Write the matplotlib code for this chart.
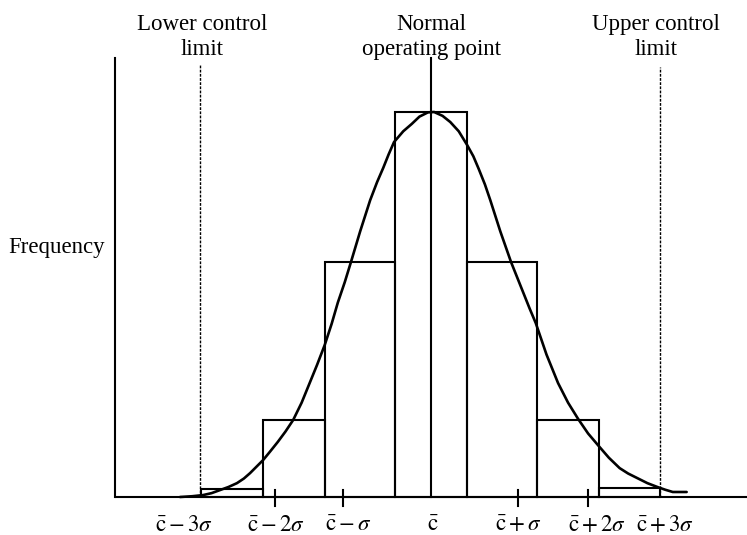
import matplotlib
matplotlib.use("Agg")
import matplotlib.pyplot as plt

# ---- data (x in sigma units about the mean c̄, y = relative frequency) ----
bar_edges = [-2.99, -2.18, -1.38, -0.47, 0.47, 1.38, 2.18, 2.98]
bar_heights = [0.021, 0.20, 0.610, 1.0, 0.610, 0.20, 0.023]

curve_x = [-3.26, -3.10, -2.96, -2.85, -2.74, -2.63, -2.52, -2.43, -2.35, -2.27,
           -2.18, -2.09, -1.99, -1.89, -1.79, -1.68, -1.58, -1.48, -1.38, -1.29,
           -1.21, -1.12, -1.04, -0.92, -0.79, -0.70, -0.62, -0.55, -0.48, -0.36,
           -0.25, -0.15, -0.04, 0.04, 0.15, 0.25, 0.36, 0.47, 0.55, 0.62,
           0.70, 0.77, 0.90, 1.04, 1.12, 1.20, 1.28, 1.36, 1.50, 1.65,
           1.78, 1.91, 2.04, 2.18, 2.31, 2.45, 2.56, 2.68, 2.81, 2.94,
           3.04, 3.14, 3.32]
curve_y = [0.0, 0.002, 0.005, 0.010, 0.018, 0.026, 0.036, 0.048, 0.062, 0.078,
           0.096, 0.118, 0.143, 0.170, 0.200, 0.245, 0.294, 0.343, 0.395, 0.450,
           0.505, 0.558, 0.610, 0.690, 0.771, 0.818, 0.855, 0.890, 0.922, 0.950,
           0.969, 0.988, 0.999, 1.0, 0.990, 0.974, 0.950, 0.914, 0.885, 0.852,
           0.812, 0.771, 0.690, 0.610, 0.570, 0.530, 0.490, 0.452, 0.370, 0.296,
           0.245, 0.203, 0.165, 0.132, 0.102, 0.075, 0.061, 0.049, 0.036, 0.026,
           0.019, 0.013, 0.013]

lower_limit = -3.0
upper_limit = 2.98
center = 0.0

tick_pos = [-2.03, -1.14, 1.13, 2.04]
tick_labels = [r"$\bar{\mathrm{c}}-3\sigma$", r"$\bar{\mathrm{c}}-2\sigma$",
               r"$\bar{\mathrm{c}}-\sigma$", r"$\bar{\mathrm{c}}$",
               r"$\bar{\mathrm{c}}+\sigma$", r"$\bar{\mathrm{c}}+2\sigma$",
               r"$\bar{\mathrm{c}}+3\sigma$"]
label_pos = [-3.21, -2.01, -1.08, 0.03, 1.13, 2.16, 3.04]

plt.rcParams['font.family'] = ['Liberation Serif', 'DejaVu Serif']
plt.rcParams['mathtext.fontset'] = 'stix'

fig = plt.figure(figsize=(7.47, 5.35), dpi=100)
ax = fig.add_axes([0, 0, 1, 1])
ax.set_xlim(-431 / 77, (747 - 431) / 77)
ax.set_ylim((497 - 535) / 385, 497 / 385)
ax.axis('off')

axis_left = -4.10
axis_top = 1.14
lw = 1.5
fs = 16.5

# axes
ax.plot([axis_left, 4.2], [0, 0], color='black', lw=lw, solid_capstyle='butt', clip_on=False)
ax.plot([axis_left, axis_left], [0, axis_top], color='black', lw=lw)
ax.plot([center, center], [0, axis_top], color='black', lw=lw)

# control limits (dotted)
ax.plot([lower_limit, lower_limit], [0, 1.125], color='black', lw=1.0, ls=(0, (2, 1)))
ax.plot([upper_limit, upper_limit], [0, 1.117], color='black', lw=1.0, ls=(0, (2, 1)))

# histogram bars
widths = [bar_edges[i + 1] - bar_edges[i] for i in range(len(bar_heights))]
ax.bar(bar_edges[:-1], bar_heights, width=widths, align='edge',
       facecolor='none', edgecolor='black', linewidth=lw)

# normal curve
ax.plot(curve_x, curve_y, color='black', lw=1.9, solid_joinstyle='round',
        solid_capstyle='round')

# ticks
for t in tick_pos:
    ax.plot([t, t], [0.018, -0.023], color='black', lw=lw)

for xp, lab in zip(label_pos, tick_labels):
    ax.text(xp, -0.075, lab, ha='center', va='center', fontsize=fs)

# annotations
ax.text(-2.97, 1.195, "Lower control\nlimit", ha='center', va='center',
        fontsize=fs, linespacing=1.2)
ax.text(0.0, 1.195, "Normal\noperating point", ha='center', va='center',
        fontsize=fs, linespacing=1.2)
ax.text(2.92, 1.195, "Upper control\nlimit", ha='center', va='center',
        fontsize=fs, linespacing=1.2)
ax.text(-4.234, 0.647, "Frequency", ha='right', va='center', fontsize=fs)

fig.savefig("out.png", dpi=100)
